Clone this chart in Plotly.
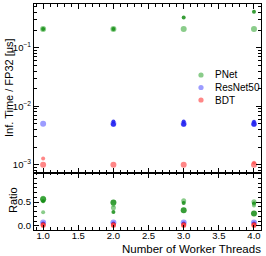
import plotly.graph_objects as go

threads = [1, 2, 3, 4]

# Inference time / FP32 (top panel)
pnet_a = [0.21, 0.21, 0.21, 0.21]
pnet_b = [0.21, 0.21, 0.33, 0.415]
resnet_a = [0.005, 0.005, 0.005, 0.005]
resnet_b = [None, 0.0049, 0.0049, 0.0049]
resnet_c = [None, 0.0055, 0.0055, 0.0054]
bdt_a = [0.001, 0.001, 0.001, 0.001]
bdt_b = [0.00128, None, None, 0.00108]

# Ratio (bottom panel)
r_pnet_a = [0.56, 0.49, 0.33, 0.26]
r_pnet_b = [0.58, 0.38, 0.53, 0.51]
r_pnet_c = [0.52, 0.29, 0.48, 0.47]
r_pnet_d = [0.285, 0.44, None, 0.43]
r_resnet_a = [0.07, 0.07, 0.07, 0.07]
r_resnet_b = [0.05, 0.05, 0.05, 0.05]
r_bdt_a = [0.02, 0.02, 0.02, 0.02]
r_bdt_b = [0.005, 0.005, 0.005, 0.005]

legend_names = ["PNet", "ResNet50", "BDT"]

yticks_top = [1e-3, 1e-2, 1e-1]
yticktext_top = ["10<sup>−3</sup>", "10<sup>−2</sup>", "10<sup>−1</sup>"]

GREEN_L = "rgba(60,170,60,0.6)"
GREEN_D = "rgba(20,140,20,0.85)"
BLUE_L = "rgba(90,90,255,0.6)"
BLUE_D = "rgba(30,30,240,0.85)"
RED_L = "rgba(255,70,70,0.65)"
RED_D = "rgba(240,30,30,0.85)"
legend_colors = [GREEN_L, BLUE_L, RED_L]

fig = go.Figure()

def add(y, color, size, yaxis, xaxis, name=None):
    fig.add_trace(go.Scatter(
        x=threads, y=y, mode="markers", name=name, showlegend=False,
        marker=dict(color=color, size=size, line=dict(width=0)),
        xaxis=xaxis, yaxis=yaxis))

add(pnet_a, GREEN_L, 6, "y", "x", "PNet")
add(pnet_b, GREEN_D, 4, "y", "x")
add(resnet_a, BLUE_L, 6, "y", "x", "ResNet50")
add(resnet_b, BLUE_D, 5, "y", "x")
add(resnet_c, BLUE_D, 4, "y", "x")
add(bdt_a, RED_L, 6, "y", "x", "BDT")
add(bdt_b, RED_L, 4, "y", "x")

add(r_pnet_a, GREEN_D, 6, "y2", "x2")
add(r_pnet_b, GREEN_L, 5, "y2", "x2")
add(r_pnet_c, GREEN_D, 4, "y2", "x2")
add(r_pnet_d, GREEN_L, 4, "y2", "x2")
add(r_resnet_a, BLUE_L, 6, "y2", "x2")
add(r_resnet_b, BLUE_D, 4, "y2", "x2")
add(r_bdt_a, RED_D, 5, "y2", "x2")
add(r_bdt_b, RED_L, 5, "y2", "x2")

font = "Liberation Sans, Arial, sans-serif"
xr = [0.87, 4.1]
common_x = dict(range=xr, ticks="inside", ticklen=5, tickwidth=1, tickcolor="black",
                showline=True, linecolor="black", linewidth=1.2, mirror="allticks",
                showgrid=False, zeroline=False, automargin=False,
                minor=dict(dtick=0.1, ticks="inside", ticklen=2.5, tickcolor="black", showgrid=False))

minor_log = [m * 10 ** e for e in (-4, -3, -2, -1) for m in range(2, 10)]

# manual legend (paper coordinates), rows in pixel terms
L, T, PW, PH = 34, 4, 227, 226
leg_rows_px = [75, 87.5, 100]
leg_marker_px = 201
leg_text_px = 213

shapes = []
annotations = []
for name, col, ypx in zip(legend_names, legend_colors, leg_rows_px):
    yp = 1 - (ypx - T) / PH
    xp = (leg_marker_px - L) / PW
    r = 2.6
    shapes.append(dict(type="circle", xref="paper", yref="paper",
                       x0=xp - r / PW, x1=xp + r / PW, y0=yp - r / PH, y1=yp + r / PH,
                       fillcolor=col, line=dict(width=0)))
    annotations.append(dict(text=name, xref="paper", yref="paper",
                            x=(leg_text_px - L) / PW, y=yp, xanchor="left", yanchor="middle",
                            showarrow=False, font=dict(size=10)))

annotations.append(dict(text="Number of Worker Threads", xref="paper", yref="paper",
                        x=(263 - L) / PW, y=-(249 - 230) / PH, xanchor="right", yanchor="middle",
                        showarrow=False, font=dict(size=11.5)))
annotations.append(dict(text="Inf. Time / FP32 [μs]", xref="paper", yref="paper",
                        x=(9 - L) / PW, y=1 - (88 - T) / PH, xanchor="center", yanchor="middle",
                        textangle=-90, showarrow=False, font=dict(size=11)))
annotations.append(dict(text="Ratio", xref="paper", yref="paper",
                        x=(13 - L) / PW, y=1 - (200 - T) / PH, xanchor="center", yanchor="middle",
                        textangle=-90, showarrow=False, font=dict(size=11)))

fig.update_layout(
    width=266, height=256,
    margin=dict(l=L, r=266 - L - PW, t=T, b=256 - T - PH),
    paper_bgcolor="white", plot_bgcolor="white",
    font=dict(family=font, size=10, color="black"),
    showlegend=False,
    xaxis=dict(common_x, domain=[0, 1], anchor="y", showticklabels=False, matches="x2",
               dtick=0.5),
    xaxis2=dict(common_x, domain=[0, 1], anchor="y2",
                tickvals=[1.0, 1.5, 2.0, 2.5, 3.0, 3.5, 4.0],
                ticktext=["1.0", "1.5", "2.0", "2.5", "3.0", "3.5", "4.0"],
                tickfont=dict(size=9.5), ticklabelstandoff=-4),
    yaxis=dict(type="log", domain=[0.253, 1], range=[-3.14, -0.25], anchor="x",
               tickvals=yticks_top, ticktext=yticktext_top, tickfont=dict(size=9.5),
               ticks="inside", ticklen=5, tickcolor="black", showline=True, linecolor="black",
               linewidth=1.2, mirror="allticks", showgrid=False, zeroline=False, automargin=False,
               minor=dict(tickvals=minor_log, ticks="inside", ticklen=2.5, tickcolor="black", showgrid=False)),
    yaxis2=dict(domain=[0, 0.253], range=[-0.09, 1.12], anchor="x2",
                tickvals=[0.0, 0.5], ticktext=["0.0", "0.5"], tickfont=dict(size=9.5),
                ticks="inside", ticklen=5, tickcolor="black", showline=True, linecolor="black",
                linewidth=1.2, mirror="allticks", showgrid=False, zeroline=False, automargin=False,
                minor=dict(dtick=0.1, ticks="inside", ticklen=2.5, tickcolor="black", showgrid=False)),
    shapes=shapes,
    annotations=annotations,
)

fig.write_html("out.html", config={"displayModeBar": False},
               post_script="document.body.style.margin='0';document.body.style.padding='0';")
